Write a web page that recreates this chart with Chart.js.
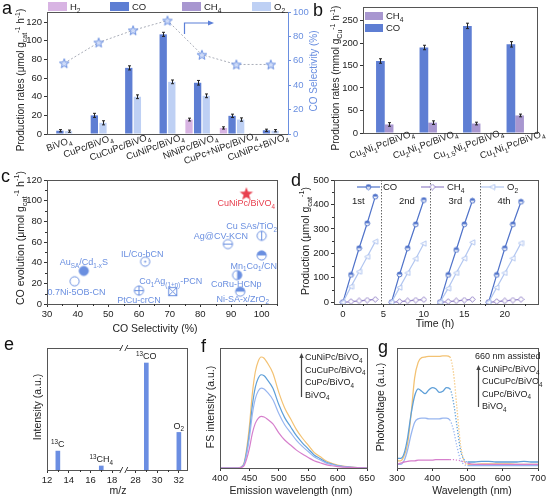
<!DOCTYPE html>
<html><head><meta charset="utf-8">
<script src="https://cdn.jsdelivr.net/npm/chart.js@4.4.1/dist/chart.umd.min.js"></script>
<style>
html,body{margin:0;padding:0;background:#fff;}
#wrap{position:relative;width:546px;height:497px;overflow:hidden;background:#fff;}
#wrap canvas{position:absolute;}
.lt{position:absolute;font:18px 'Liberation Sans',Arial,sans-serif;color:#111;line-height:18px;}
</style></head><body>
<div id="wrap">
<canvas id="cA" width="320" height="170" style="left:0px;top:0px"></canvas>
<canvas id="cB" width="228" height="170" style="left:318px;top:0px"></canvas>
<canvas id="cC" width="285" height="175" style="left:0px;top:165px"></canvas>
<canvas id="cD" width="261" height="175" style="left:285px;top:165px"></canvas>
<canvas id="cE" width="197" height="162" style="left:0px;top:335px"></canvas>
<canvas id="cF" width="185" height="162" style="left:197px;top:335px"></canvas>
<canvas id="cG" width="171" height="162" style="left:375px;top:335px"></canvas>
<div class="lt" style="left:2px;top:-1px">a</div>
<div class="lt" style="left:313px;top:1px">b</div>
<div class="lt" style="left:1px;top:167px">c</div>
<div class="lt" style="left:291px;top:171px">d</div>
<div class="lt" style="left:4px;top:335px">e</div>
<div class="lt" style="left:201px;top:337px">f</div>
<div class="lt" style="left:378px;top:338px">g</div>
</div>
<script>
// ================= DATA =================
// Panel a
const aCats=['BiVO_{4}','CuPc/BiVO_{4}','CuCuPc/BiVO_{4}','CuNiPc/BiVO_{4}','NiNiPc/BiVO_{4}','CuPc+NiPc/BiVO_{4}','CuNiPc+BiVO_{4}'];
const aH2=[0,0,0,0,15.5,6.5,0];
const aH2Err=[0,0,0,0,1.5,1.2,0];
const aCO=[3.5,20,71,107,55,19.5,4];
const aCOErr=[1.2,2.2,2.2,2.2,2.5,1.8,1.2];
const aCH4=[0,0,0,0,0,0,0];
const aO2=[3,12,40,56,41,15.5,3.5];
const aO2Err=[1.2,2.2,2,2,2,1.8,1.2];
const aSel=[58,75,85,93,65,57,57];
const aYTicks=[0,20,40,60,80,100,120];
const aY2Ticks=[0,20,40,60,80,100];
// Panel b
const bCats=['Cu_{3}Ni_{1}Pc/BiVO_{4}','Cu_{2}Ni_{1}Pc/BiVO_{4}','Cu_{1.5}Ni_{1}Pc/BiVO_{4}','Cu_{1}Ni_{1}Pc/BiVO_{4}'];
const bCO=[160,190,238,197];
const bCOErr=[5,5,6,6];
const bCH4=[19,23,21,39];
const bCH4Err=[4,4,3,3];
const bYTicks=[0,50,100,150,200,250];
// Panel c
const cNames=['Au_{SA}/Cd_{1-x}S','0.7Ni-5OB-CN','IL/Co-bCN','PtCu-crCN','Co_{1}Ag_{(1+n)}-PCN','Ag@CV-KCN','Cu SAs/TiO_{2}','Mn_{1}Co_{1}/CN','CoRu-HCNp','Ni-SA-x/ZrO_{2}'];
const cSel=[42,39,62,60,71,89,100,100,92,93];
const cCO=[32,22,41,13,12,58,66,47,28,12];
const cOurName='CuNiPc/BiVO_{4}';
const cOurSel=[95];
const cOurCO=[107];
const cXTicks=[30,40,50,60,70,80,90,100];
const cYTicks=[0,20,40,60,80,100,120];
// Panel d
const dCycleStart=[0,6,12,18];
const dHours=[0,1,2,3,4];
const dCO=[[0,112,221,323,432],[0,114,221,319,418],[0,112,214,319,415],[0,112,221,319,411]];
const dCH4=[[0,3,6,9,12],[0,3,6,9,11],[0,3,6,9,12],[0,3,6,9,12]];
const dO2=[[0,64,125,186,248],[0,60,120,178,240],[0,57,120,180,245],[0,60,120,180,242]];
const dSeparators=[4.7,10.8,16.9];
const dCycleNames=['1st','2nd','3rd','4th'];
const dXTicks=[0,5,10,15,20];
const dYTicks=[0,100,200,300,400,500];
// Panel e
const eMZ=[13,17,29,32];
const eInt=[0.155,0.033,0.877,0.308];
const eNames=['^{13}C','^{13}CH_{4}','^{13}CO','O_{2}'];
const eTicks=[12,14,16,18,28,30,32];
const eMinor=[13,15,17,29,31];
const eBreak={lo:18,hi:28,gap:2.15};
// Panel f
const fWL=[400,430,440,445,450,455,460,465,470,475,480,490,500,510,520,530,540,550,560,570,580,590,600,620,650];
const fCuNiPc=[0,0,3,15,35,62,80,89,92.5,91.5,88,79,63,50,41,32,25,19,13,9.5,6,4,2.5,1,0];
const fCuCuPc=[0,0,2.5,12.6,29.4,52,67.2,74.8,77.7,76.9,73.9,66.4,52.9,42,34.4,26.9,21,16,10.9,8,5,3.4,2.1,0.8,0];
const fCuPc=[0,0,2.2,10.8,25.2,44.6,57.6,64.1,66.6,65.9,63.4,56.9,45.4,36,29.5,23,18,13.7,9.4,6.8,4.3,2.9,1.8,0.7,0];
const fBiVO4=[0,0,1.4,7,16.3,28.8,37.2,41.4,43,42.5,40.9,36.7,29.3,23.3,19.1,14.9,11.6,8.8,6,4.4,2.8,1.9,1.2,0.5,0];
const fXTicks=[400,450,500,550,600,650];
// Panel g
const gWL=[300,310,320,330,340,350,360,370,380,390,400,410,420,430,440,450,460,470,480,490,500,520,540,560,580,600,620,640,660,680,700];
const gCuNiPc=[6,6,10,20,45,75,88,92,92.5,93,93,93,93,93.5,93.5,92.5,80,50,20,6,3,3,3.5,3.5,3.5,3.5,3.5,3,3,3,3];
const gCuCuPc=[8,8,12,25,45,60,66,64,62,65,67,66,63,64,67,66,55,35,15,7,5,5,5.5,5.5,5,5,5,5,5.5,5,5];
const gCuPc=[3,3,6,15,28,38,41,41.5,41.5,41,41,41,41,41.5,41.5,40,32,18,7,3,2,2,2,2,2,2,2,2,2,2,2];
const gBiVO4=[3,4,5,5.5,6,6,6.5,6.5,6.5,6.5,6.5,7,7,7,7,7,7,6.5,6,5,4,3,3,3,3,3,3,3,3,3,3];
const gXTicks=[300,400,500,600,700];
const legNames=['CuNiPc/BiVO_{4}','CuCuPc/BiVO_{4}','CuPc/BiVO_{4}','BiVO_{4}'];

// ================= STYLE / HELPERS =================
const FONT="'Liberation Sans', Arial, Helvetica, sans-serif";
Chart.defaults.font.family=FONT;
Chart.defaults.font.size=9.5;
Chart.defaults.color='#222';
Chart.defaults.animation=false;
Chart.defaults.responsive=false;
Chart.defaults.plugins.legend.display=false;
Chart.defaults.plugins.tooltip.enabled=false;

const C_H2='#d8b4e3', C_CO='#5e7ed3', C_CH4='#a897d0', C_O2='#bed0f4', C_AX2='#6a8fe0';
const C_OR='#f3c273', C_ST='#5e9fd8', C_LB='#98b6f0', C_PK='#d67fcc';

function parseRich(s){const out=[];let i=0,buf='';while(i<s.length){const c=s[i];if((c==='_'||c==='^')&&s[i+1]==='{'){if(buf){out.push({t:buf,m:0});buf='';}const j=s.indexOf('}',i);out.push({t:s.slice(i+2,j),m:c==='_'?1:2});i=j+1;}else{buf+=c;i++;}}if(buf)out.push({t:buf,m:0});return out;}
function drawRich(ctx,s,x,y,o){o=o||{};const size=o.size||10,col=o.color||'#222';const segs=parseRich(s);
 ctx.save();ctx.translate(x,y);if(o.rot)ctx.rotate(o.rot);let w=0;
 segs.forEach(g=>{ctx.font=(g.m?size*0.7:size)+'px '+FONT;g.w=ctx.measureText(g.t).width;w+=g.w;});
 let cx=-w*(o.align==null?0.5:o.align);ctx.fillStyle=col;ctx.textBaseline='alphabetic';ctx.textAlign='left';
 const base=size*0.35;
 segs.forEach(g=>{ctx.font=(g.m?size*0.7:size)+'px '+FONT;const dy=g.m===1?size*0.3:(g.m===2?-size*0.4:0);ctx.fillText(g.t,cx,base+dy);cx+=g.w;});
 ctx.restore();}
function frame(ctx,a,col){ctx.save();ctx.strokeStyle=col||'#555';ctx.lineWidth=1;ctx.strokeRect(Math.round(a.left)+0.5,Math.round(a.top)+0.5,Math.round(a.right)-Math.round(a.left),Math.round(a.bottom)-Math.round(a.top));ctx.restore();}
function zeroPad(s){s.paddingLeft=0;s.paddingRight=0;s.paddingTop=0;s.paddingBottom=0;}
function fitW(w){return s=>{s.width=w;zeroPad(s);};}
function fitH(h){return s=>{s.height=h;zeroPad(s);};}
function ticksAt(v){return s=>{s.ticks=v.map(x=>({value:x}));};}
function gridT(col){return {display:true,drawOnChartArea:false,drawTicks:true,tickLength:3,color:col||'#333',lineWidth:1};}
function tk(extra){return Object.assign({color:'#222',padding:2,font:{size:9.5}},extra||{});}
function vline(ctx,x,y1,y2,col,dash){ctx.save();ctx.strokeStyle=col;ctx.lineWidth=1;if(dash)ctx.setLineDash(dash);ctx.beginPath();ctx.moveTo(Math.round(x)+0.5,y1);ctx.lineTo(Math.round(x)+0.5,y2);ctx.stroke();ctx.restore();}
function minorTicks(ctx,scale,vals,len){ctx.save();ctx.strokeStyle='#333';ctx.lineWidth=1;ctx.beginPath();vals.forEach(v=>{const p=Math.round(scale.getPixelForValue(v))+0.5;if(scale.isHorizontal()){ctx.moveTo(p,scale.top);ctx.lineTo(p,scale.top+len);}else{ctx.moveTo(scale.right-len,p);ctx.lineTo(scale.right,p);}});ctx.stroke();ctx.restore();}
function drawErr(chart){const ctx=chart.ctx;ctx.save();ctx.strokeStyle='#222';ctx.lineWidth=1;
 chart.data.datasets.forEach((ds,i)=>{if(!ds.err)return;const meta=chart.getDatasetMeta(i);const ys=chart.scales[ds.yAxisID||'y'];
  meta.data.forEach((el,j)=>{const v=ds.data[j],e=ds.err[j];if(!v||!e)return;const x=Math.round(el.x)+0.5;const y1=ys.getPixelForValue(v-e),y2=ys.getPixelForValue(v+e);
   ctx.beginPath();ctx.moveTo(x,y1);ctx.lineTo(x,y2);ctx.moveTo(x-1.5,y1);ctx.lineTo(x+1.5,y1);ctx.moveTo(x-1.5,y2);ctx.lineTo(x+1.5,y2);ctx.stroke();});});
 ctx.restore();}
function mkCanvas(s){const c=document.createElement('canvas');c.width=c.height=s;return c;}
function starImg(r,fill,stroke,lw){const s=Math.ceil(r*2+lw*2+2);const c=mkCanvas(s);const x=c.getContext('2d');x.translate(s/2,s/2+r*0.1);x.beginPath();
 for(let i=0;i<10;i++){const rr=i%2?r*0.42:r;const a=-Math.PI/2+i*Math.PI/5;x.lineTo(rr*Math.cos(a),rr*Math.sin(a));}
 x.closePath();x.fillStyle=fill;x.fill();if(lw){x.strokeStyle=stroke;x.lineWidth=lw;x.stroke();}return c;}
function sym(type,col,r){r=r||4.6;const s=13;const c=mkCanvas(s);const x=c.getContext('2d');const m=s/2;x.strokeStyle=col;x.fillStyle=col;x.lineWidth=1;
 if(type==='boxx'){x.strokeRect(m-r+0.5,m-r+0.5,2*r-1,2*r-1);x.beginPath();x.moveTo(m-r+0.5,m-r+0.5);x.lineTo(m+r-0.5,m+r-0.5);x.moveTo(m+r-0.5,m-r+0.5);x.lineTo(m-r+0.5,m+r-0.5);x.stroke();return c;}
 x.fillStyle='#fff';x.beginPath();x.arc(m,m,r,0,Math.PI*2);x.fill();x.fillStyle=col;
 if(type==='fill'){x.beginPath();x.arc(m,m,r,0,Math.PI*2);x.fill();}
 if(type==='halfTop'){x.beginPath();x.arc(m,m,r,Math.PI,0);x.closePath();x.fill();}
 if(type==='halfRight'){x.beginPath();x.arc(m,m,r,-Math.PI/2,Math.PI/2);x.closePath();x.fill();}
 if(type==='dot'){x.beginPath();x.arc(m,m,1,0,Math.PI*2);x.fill();}
 x.beginPath();x.arc(m,m,r,0,Math.PI*2);x.stroke();
 x.beginPath();
 if(type==='plus'||type==='minus'){x.moveTo(m-r,m);x.lineTo(m+r,m);}
 if(type==='plus'||type==='vline'){x.moveTo(m,m-r);x.lineTo(m,m+r);}
 x.stroke();return c;}
function markerD(kind,col){const s=7;const c=mkCanvas(s);const x=c.getContext('2d');const m=s/2;x.strokeStyle=col;x.fillStyle=col;x.lineWidth=1;
 if(kind==='halfcirc'){x.fillStyle='#fff';x.beginPath();x.arc(m,m,2.4,0,Math.PI*2);x.fill();x.fillStyle=col;x.beginPath();x.arc(m,m,2.4,Math.PI,0);x.closePath();x.fill();x.beginPath();x.arc(m,m,2.4,0,Math.PI*2);x.stroke();}
 if(kind==='diamond'){x.fillStyle='#fff';x.beginPath();x.moveTo(m,m-2.8);x.lineTo(m+2.8,m);x.lineTo(m,m+2.8);x.lineTo(m-2.8,m);x.closePath();x.fill();x.stroke();}
 if(kind==='tri'){x.fillStyle='#fff';x.beginPath();x.moveTo(m-2.8,m);x.lineTo(m+2.4,m-2.6);x.lineTo(m+2.4,m+2.6);x.closePath();x.fill();x.stroke();}
 return c;}
function arrowUp(ctx,x,y1,y2,col){ctx.save();ctx.strokeStyle=col;ctx.fillStyle=col;ctx.lineWidth=1.2;ctx.beginPath();ctx.moveTo(x,y1);ctx.lineTo(x,y2+3);ctx.stroke();ctx.beginPath();ctx.moveTo(x,y2-1);ctx.lineTo(x-2.2,y2+4);ctx.lineTo(x+2.2,y2+4);ctx.closePath();ctx.fill();ctx.restore();}

// ================= PANEL A =================
(function(){
 const P={ox:0,oy:0,w:320,h:170,L:47,T:12,R:288,B:134};
 const star=starImg(5,'rgba(205,218,248,0.9)',C_AX2,1);
 new Chart(document.getElementById('cA'),{type:'bar',
  data:{labels:aCats,datasets:[
   {type:'line',label:'CO Selectivity',data:aSel,yAxisID:'y2',borderColor:'#a9adb8',borderWidth:1,borderDash:[2,2],pointStyle:star,pointRadius:5,order:0},
   {label:'H2',data:aH2,err:aH2Err,backgroundColor:C_H2,yAxisID:'y',order:1},
   {label:'CO',data:aCO,err:aCOErr,backgroundColor:C_CO,yAxisID:'y',order:1},
   {label:'O2',data:aO2,err:aO2Err,backgroundColor:C_O2,yAxisID:'y',order:1},
   {label:'CH4',data:aCH4,backgroundColor:C_CH4,yAxisID:'y',order:1}]},
  options:{layout:{padding:{left:0,top:P.T-P.oy,right:0,bottom:0}},
   datasets:{bar:{categoryPercentage:1.0,barPercentage:0.85}},
   scales:{
    x:{type:'category',offset:true,grid:{display:false},border:{display:false},ticks:{display:false},afterFit:fitH(P.oy+P.h-P.B)},
    y:{position:'left',min:0,max:131,afterBuildTicks:ticksAt(aYTicks),grid:gridT(),border:{display:false},ticks:tk(),afterFit:fitW(P.L-P.ox)},
    y2:{position:'right',min:0,max:100,afterBuildTicks:ticksAt(aY2Ticks),grid:gridT(C_AX2),border:{display:false},ticks:tk({color:C_AX2}),afterFit:fitW(P.ox+P.w-P.R)}}},
  plugins:[{id:'pa',afterDatasetsDraw:drawErr,afterDraw(ch){const ctx=ch.ctx,a=ch.chartArea;frame(ctx,a,'#555');vline(ctx,a.right,a.top,a.bottom+1,C_AX2);
   const xs=ch.scales.x;aCats.forEach((c,i)=>drawRich(ctx,c,xs.getPixelForValue(i),a.bottom+8,{size:9.5,rot:-20*Math.PI/180,align:0.72}));
   ctx.save();ctx.translate(-P.ox,-P.oy);
   [['H_{2}',C_H2,48],['CO',C_CO,110],['CH_{4}',C_CH4,182],['O_{2}',C_O2,252]].forEach(l=>{ctx.fillStyle=l[1];ctx.fillRect(l[2],2,19,9);drawRich(ctx,l[0],l[2]+22,6.5,{size:9.5,align:0});});
   ctx.strokeStyle='#5b7fd8';ctx.fillStyle='#5b7fd8';ctx.lineWidth=1.2;ctx.beginPath();ctx.moveTo(184.5,34);ctx.lineTo(184.5,23);ctx.lineTo(210,23);ctx.stroke();
   ctx.beginPath();ctx.moveTo(214,23);ctx.lineTo(208,20.5);ctx.lineTo(208,25.5);ctx.closePath();ctx.fill();
   drawRich(ctx,'Production rates (μmol g_{cat}^{-1} h^{-1})',20,80,{size:10,rot:-Math.PI/2});
   drawRich(ctx,'CO Selectivity (%)',313,71,{size:10,rot:-Math.PI/2,color:C_AX2});
   ctx.restore();}}]});
})();

// ================= PANEL B =================
(function(){
 const P={ox:318,oy:0,w:228,h:170,L:363,T:7,R:537,B:133};
 new Chart(document.getElementById('cB'),{type:'bar',
  data:{labels:bCats,datasets:[
   {label:'CO',data:bCO,err:bCOErr,backgroundColor:C_CO},
   {label:'CH4',data:bCH4,err:bCH4Err,backgroundColor:C_CH4}]},
  options:{layout:{padding:{left:0,top:P.T-P.oy,right:P.ox+P.w-P.R,bottom:0}},
   datasets:{bar:{categoryPercentage:0.4,barPercentage:1.0}},
   scales:{
    x:{type:'category',offset:true,grid:{display:false},border:{display:false},ticks:{display:false},afterFit:fitH(P.oy+P.h-P.B)},
    y:{min:0,max:280,afterBuildTicks:ticksAt(bYTicks),grid:gridT(),border:{display:false},ticks:tk(),afterFit:fitW(P.L-P.ox)}}},
  plugins:[{id:'pb',afterDatasetsDraw:drawErr,afterDraw(ch){const ctx=ch.ctx,a=ch.chartArea;frame(ctx,a,'#555');
   const xs=ch.scales.x;bCats.forEach((c,i)=>drawRich(ctx,c,xs.getPixelForValue(i),a.bottom+10,{size:9.5,rot:-20*Math.PI/180,align:0.55}));
   ctx.save();ctx.translate(-P.ox,-P.oy);
   [['CH_{4}',C_CH4,12],['CO',C_CO,24]].forEach(l=>{ctx.fillStyle=l[1];ctx.fillRect(365,l[2],18,8);drawRich(ctx,l[0],386,l[2]+4,{size:9.5,align:0});});
   drawRich(ctx,'Production rates (mmol g_{Cu}^{-1} h^{-1})',335,78,{size:10,rot:-Math.PI/2});
   ctx.restore();}}]});
})();

// ================= PANEL C =================
(function(){
 const P={ox:0,oy:165,w:285,h:175,L:47,T:180,R:279,B:304};
 const types=['fill','open','dot','plus','boxx','minus','vline','halfTop','halfRight','halfTop'];
 const imgs=types.map(t=>sym(t,C_AX2));
 const red=starImg(7,'#e8404f','#e8404f',0);
 const off=[[0,-9],[2,11],[-3,-7.5],[0,9.5],[-2,-10.5],[-7,-8.5],[-10,-10],[-8,10],[-1,8.6],[2.5,7]];
 new Chart(document.getElementById('cC'),{type:'scatter',
  data:{datasets:[
   {label:'ref',data:cSel.map((v,i)=>({x:v,y:cCO[i]})),pointStyle:imgs,pointRadius:5},
   {label:'ours',data:cOurSel.map((v,i)=>({x:v,y:cOurCO[i]})),pointStyle:red,pointRadius:7}]},
  options:{layout:{padding:{left:0,top:P.T-P.oy,right:P.ox+P.w-P.R,bottom:0}},
   scales:{
    x:{type:'linear',min:30,max:105,afterBuildTicks:ticksAt(cXTicks),grid:gridT(),border:{display:false},ticks:tk(),afterFit:fitH(P.oy+P.h-P.B)},
    y:{type:'linear',min:0,max:120,afterBuildTicks:ticksAt(cYTicks),grid:gridT(),border:{display:false},ticks:tk(),afterFit:fitW(P.L-P.ox)}}},
  plugins:[{id:'pc',afterDraw(ch){const ctx=ch.ctx,a=ch.chartArea;frame(ctx,a,'#555');
   minorTicks(ctx,ch.scales.x,[35,45,55,65,75,85,95,105],2);minorTicks(ctx,ch.scales.y,[10,30,50,70,90,110],2);
   const m=ch.getDatasetMeta(0);m.data.forEach((el,i)=>drawRich(ctx,cNames[i],el.x+off[i][0],el.y+off[i][1],{size:9,color:C_AX2}));
   const m2=ch.getDatasetMeta(1);m2.data.forEach(el=>drawRich(ctx,cOurName,el.x,el.y+9.5,{size:9,color:'#e8404f'}));
   ctx.save();ctx.translate(-P.ox,-P.oy);
   drawRich(ctx,'CO evolution (μmol g_{cat}^{-1} h^{-1})',20,238,{size:10.5,rot:-Math.PI/2});
   drawRich(ctx,'CO Selectivity (%)',155,328,{size:10.5});
   ctx.restore();}}]});
})();

// ================= PANEL D =================
(function(){
 const P={ox:285,oy:165,w:261,h:175,L:334,T:180,R:538,B:304};
 const C1='#4f72c9',C2='#9584c8',C3='#b2c6f0';
 const mCO=markerD('halfcirc',C1),mCH4=markerD('diamond',C2),mO2=markerD('tri',C3);
 function cyc(series){const pts=[];dCycleStart.forEach((s,k)=>{dHours.forEach((h,j)=>pts.push({x:s+h,y:series[k][j]}));pts.push({x:s+4.5,y:null});});return pts;}
 new Chart(document.getElementById('cD'),{type:'line',
  data:{datasets:[
   {label:'O2',data:cyc(dO2),borderColor:C3,borderWidth:1.2,pointStyle:mO2,pointRadius:3,spanGaps:false},
   {label:'CH4',data:cyc(dCH4),borderColor:C2,borderWidth:1.2,pointStyle:mCH4,pointRadius:3,spanGaps:false},
   {label:'CO',data:cyc(dCO),borderColor:C1,borderWidth:1.2,pointStyle:mCO,pointRadius:3,spanGaps:false}]},
  options:{layout:{padding:{left:0,top:P.T-P.oy,right:P.ox+P.w-P.R,bottom:0}},
   scales:{
    x:{type:'linear',min:-1.1,max:24.1,afterBuildTicks:ticksAt(dXTicks),grid:gridT(),border:{display:false},ticks:tk(),afterFit:fitH(P.oy+P.h-P.B)},
    y:{type:'linear',min:-7,max:500,afterBuildTicks:ticksAt(dYTicks),grid:gridT(),border:{display:false},ticks:tk(),afterFit:fitW(P.L-P.ox)}}},
  plugins:[{id:'pd',beforeDatasetsDraw(ch){const ctx=ch.ctx,a=ch.chartArea;const xs=ch.scales.x,ys=ch.scales.y;
    dSeparators.forEach(s=>vline(ctx,xs.getPixelForValue(s),a.top,a.bottom,'#666',[1.5,1.5]));
    dCycleNames.forEach((n,i)=>drawRich(ctx,n,xs.getPixelForValue(dCycleStart[i]+1.9),ys.getPixelForValue(415),{size:9.5}));},
   afterDraw(ch){const ctx=ch.ctx,a=ch.chartArea;frame(ctx,a,'#555');
   minorTicks(ctx,ch.scales.y,[50,150,250,350,450],2);minorTicks(ctx,ch.scales.x,[2.5,7.5,12.5,17.5,22.5],2);
   ctx.save();ctx.translate(-P.ox,-P.oy);
   [['CO',C1,mCO,357],['CH_{4}',C2,mCH4,421],['O_{2}',C3,mO2,481]].forEach(l=>{ctx.strokeStyle=l[1];ctx.lineWidth=1.2;ctx.beginPath();ctx.moveTo(l[3],187);ctx.lineTo(l[3]+23,187);ctx.stroke();ctx.drawImage(l[2],l[3]+11.5-3.5,187-3.5);drawRich(ctx,l[0],l[3]+26,187,{size:9.5,align:0});});
   drawRich(ctx,'Production (μmol g_{cat}^{-1})',305,241,{size:10.5,rot:-Math.PI/2});
   drawRich(ctx,'Time (h)',435,323,{size:10.5});
   ctx.restore();}}]});
})();

// ================= PANEL E =================
function mapMZ(m){return m<=eBreak.lo+1?m:m-eBreak.hi+eBreak.lo+eBreak.gap;}
(function(){
 const P={ox:0,oy:335,w:197,h:162,L:47,T:348,R:187,B:470};
 new Chart(document.getElementById('cE'),{type:'bar',
  data:{datasets:[{label:'MS',data:eMZ.map((m,i)=>({x:mapMZ(m),y:eInt[i]})),backgroundColor:'#6b8ee2',barThickness:4}]},
  options:{layout:{padding:{left:0,top:P.T-P.oy,right:P.ox+P.w-P.R,bottom:0}},
   scales:{
    x:{type:'linear',min:12,max:24.9,offset:false,afterBuildTicks:ticksAt(eTicks.map(mapMZ)),grid:Object.assign(gridT(),{offset:false}),border:{display:false},
       ticks:tk({callback:(v,i)=>String(eTicks[i])}),afterFit:fitH(P.oy+P.h-P.B)},
    y:{type:'linear',min:0,max:1,grid:{display:false},border:{display:false},ticks:{display:false},afterFit:fitW(P.L-P.ox)}}},
  plugins:[{id:'pe',afterDraw(ch){const ctx=ch.ctx,a=ch.chartArea;frame(ctx,a,'#555');const xs=ch.scales.x,ys=ch.scales.y;
   minorTicks(ctx,xs,eMinor.map(mapMZ),2);
   const bx=xs.getPixelForValue((mapMZ(eBreak.lo)+mapMZ(eBreak.hi))/2);
   [a.top,a.bottom].forEach(yy=>{ctx.save();ctx.fillStyle='#fff';ctx.fillRect(bx-3,yy-2,6,4);ctx.strokeStyle='#444';ctx.lineWidth=1;ctx.beginPath();ctx.moveTo(bx-4,yy+3);ctx.lineTo(bx-1,yy-3);ctx.moveTo(bx+1,yy+3);ctx.lineTo(bx+4,yy-3);ctx.stroke();ctx.restore();});
   eMZ.forEach((m,i)=>drawRich(ctx,eNames[i],xs.getPixelForValue(mapMZ(m)),ys.getPixelForValue(eInt[i])-7,{size:9}));
   ctx.save();ctx.translate(-P.ox,-P.oy);
   drawRich(ctx,'Intensity (a.u.)',37,407,{size:10.5,rot:-Math.PI/2});
   drawRich(ctx,'m/z',118,490,{size:10.5});
   ctx.restore();}}]});
})();

// ================= PANEL F =================
(function(){
 const P={ox:197,oy:335,w:185,h:162,L:220,T:348,R:367,B:468};
 const mk=(lab,arr,col)=>({label:lab,data:fWL.map((w,i)=>({x:w,y:arr[i]})),borderColor:col,borderWidth:1.2,pointRadius:0,cubicInterpolationMode:'monotone'});
 new Chart(document.getElementById('cF'),{type:'line',
  data:{datasets:[mk('BiVO4',fBiVO4,C_PK),mk('CuPc',fCuPc,C_LB),mk('CuCuPc',fCuCuPc,C_ST),mk('CuNiPc',fCuNiPc,C_OR)]},
  options:{layout:{padding:{left:0,top:P.T-P.oy,right:P.ox+P.w-P.R,bottom:0}},
   scales:{
    x:{type:'linear',min:400,max:650,afterBuildTicks:ticksAt(fXTicks),grid:gridT(),border:{display:false},ticks:tk(),afterFit:fitH(P.oy+P.h-P.B)},
    y:{type:'linear',min:0,max:100,grid:{display:false},border:{display:false},ticks:{display:false},afterFit:fitW(P.L-P.ox)}}},
  plugins:[{id:'pf',afterDraw(ch){const ctx=ch.ctx,a=ch.chartArea;frame(ctx,a,'#555');
   ctx.save();ctx.translate(-P.ox,-P.oy);
   arrowUp(ctx,301.5,397,354,'#444');
   legNames.forEach((n,i)=>drawRich(ctx,n,305,357+i*12.5,{size:9,align:0}));
   drawRich(ctx,'FS intensity (a.u.)',210,407,{size:10.5,rot:-Math.PI/2});
   drawRich(ctx,'Emission wavelength (nm)',291,490,{size:10.5});
   ctx.restore();}}]});
})();

// ================= PANEL G =================
(function(){
 const P={ox:375,oy:335,w:171,h:162,L:397,T:348,R:538,B:468};
 const mk=(lab,arr,col)=>({label:lab,data:gWL.map((w,i)=>({x:w,y:arr[i]})),borderColor:col,borderWidth:1.3,pointRadius:0,cubicInterpolationMode:'monotone',
   segment:{borderDash:c=>(c.p0.parsed.x>=450&&c.p1.parsed.x<=500)?[1.2,1.8]:undefined}});
 new Chart(document.getElementById('cG'),{type:'line',
  data:{datasets:[mk('BiVO4',gBiVO4,C_PK),mk('CuPc',gCuPc,C_LB),mk('CuCuPc',gCuCuPc,C_ST),mk('CuNiPc',gCuNiPc,C_OR)]},
  options:{layout:{padding:{left:0,top:P.T-P.oy,right:P.ox+P.w-P.R,bottom:0}},
   scales:{
    x:{type:'linear',min:300,max:700,afterBuildTicks:ticksAt(gXTicks),grid:gridT(),border:{display:false},ticks:tk(),afterFit:fitH(P.oy+P.h-P.B)},
    y:{type:'linear',min:0,max:100,grid:{display:false},border:{display:false},ticks:{display:false},afterFit:fitW(P.L-P.ox)}}},
  plugins:[{id:'pg',afterDraw(ch){const ctx=ch.ctx,a=ch.chartArea;frame(ctx,a,'#555');
   ctx.save();ctx.translate(-P.ox,-P.oy);
   drawRich(ctx,'660 nm assisted',475,356,{size:9,align:0});
   arrowUp(ctx,478.5,407,366,'#444');
   legNames.forEach((n,i)=>drawRich(ctx,n,482,369+i*12.3,{size:9,align:0}));
   drawRich(ctx,'Photovoltage (a.u.)',380,407,{size:10.5,rot:-Math.PI/2});
   drawRich(ctx,'Wavelength (nm)',472,490,{size:10.5});
   ctx.restore();}}]});
})();
</script>
</body></html>
